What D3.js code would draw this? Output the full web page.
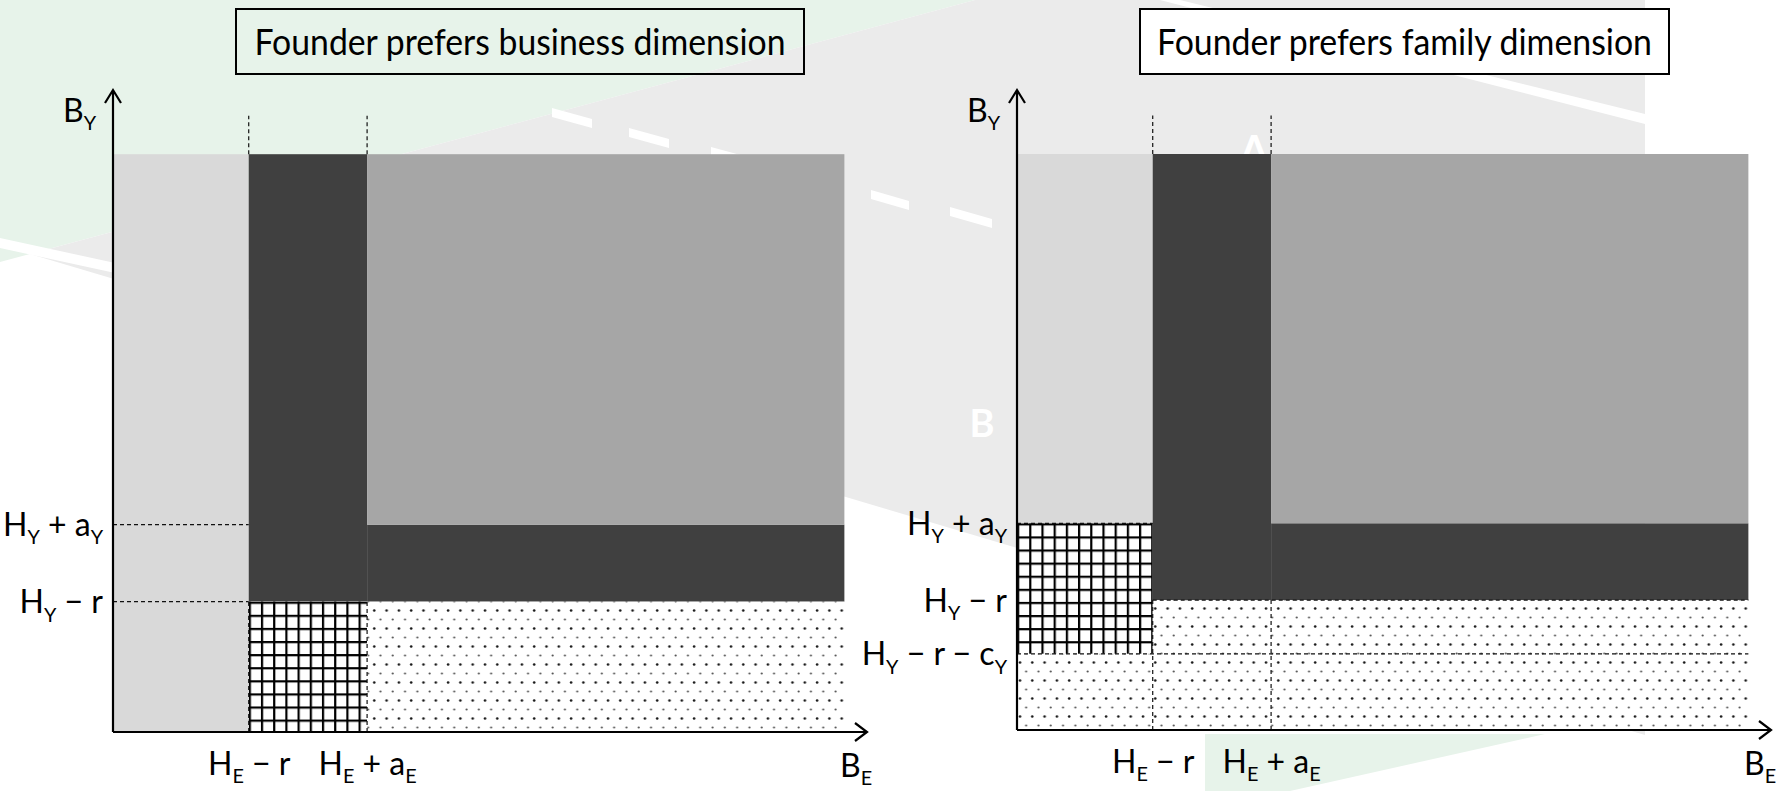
<!DOCTYPE html>
<html>
<head>
<meta charset="utf-8">
<script src="https://cdn.jsdelivr.net/npm/d3@7"></script>
<style>
  html, body { margin: 0; padding: 0; background: #ffffff; }
  svg { display: block; }
  text { font-family: Lato, "Noto Sans", sans-serif; }
</style>
</head>
<body>
<svg id="chart" width="1778" height="791"></svg>
<script>
// ---------------- data (abstract units: axis origin = 0, arrow tip = 100) ----------------
const panelTitles = ["Founder prefers business dimension", "Founder prefers family dimension"];
const xAxisName = "B_E";
const yAxisName = "B_Y";

const HE_minus_r = 18.0;      // H_E − r
const HE_plus_aE = 33.7;      // H_E + a_E
const HY_plus_aY = 32.3;      // H_Y + a_Y
const HY_minus_r = 20.3;      // H_Y − r
const HY_minus_r_cY = 11.9;   // H_Y − r − c_Y
const regionTop = 90;         // upper bound of shaded area
const regionRight = 97;       // right bound of shaded area
const guideTop = 96;          // end of the dashed guides above the area

const xTickValues = [HE_minus_r, HE_plus_aE];
const xTickLabels = ["H_E − r", "H_E + a_E"];

const yTickValuesBusiness = [HY_plus_aY, HY_minus_r];
const yTickLabelsBusiness = ["H_Y + a_Y", "H_Y − r"];
const yTickValuesFamily = [HY_plus_aY, HY_minus_r, HY_minus_r_cY];
const yTickLabelsFamily = ["H_Y + a_Y", "H_Y − r", "H_Y − r − c_Y"];

// regions: kind = light | dark | mid | hatch | dots
const businessRegions = [
  { kind: "light", x: [0, HE_minus_r],            y: [0, regionTop] },
  { kind: "dark",  x: [HE_minus_r, HE_plus_aE],   y: [HY_minus_r, regionTop] },
  { kind: "dark",  x: [HE_plus_aE, regionRight],  y: [HY_minus_r, HY_plus_aY] },
  { kind: "mid",   x: [HE_plus_aE, regionRight],  y: [HY_plus_aY, regionTop] },
  { kind: "hatch", x: [HE_minus_r, HE_plus_aE],   y: [0, HY_minus_r] },
  { kind: "dots",  x: [HE_plus_aE, regionRight],  y: [0, HY_minus_r] }
];
const familyRegions = [
  { kind: "light", x: [0, HE_minus_r],            y: [HY_plus_aY, regionTop] },
  { kind: "hatch", x: [0, HE_minus_r],            y: [HY_minus_r_cY, HY_plus_aY] },
  { kind: "dots",  x: [0, HE_minus_r],            y: [0, HY_minus_r_cY] },
  { kind: "dark",  x: [HE_minus_r, HE_plus_aE],   y: [HY_minus_r, regionTop] },
  { kind: "dark",  x: [HE_plus_aE, regionRight],  y: [HY_minus_r, HY_plus_aY] },
  { kind: "mid",   x: [HE_plus_aE, regionRight],  y: [HY_plus_aY, regionTop] },
  { kind: "dots",  x: [HE_minus_r, regionRight],  y: [0, HY_minus_r] }
];

// dashed guide lines: [x0, y0, x1, y1]
const businessGuides = [
  [0, HY_plus_aY, HE_minus_r, HY_plus_aY],
  [0, HY_minus_r, HE_minus_r, HY_minus_r],
  [HE_minus_r, 0, HE_minus_r, HY_minus_r],
  [HE_plus_aE, 0, HE_plus_aE, HY_minus_r],
  [HE_minus_r, regionTop, HE_minus_r, guideTop],
  [HE_plus_aE, regionTop, HE_plus_aE, guideTop]
];
const familyGuides = [
  [0, HY_plus_aY, HE_minus_r, HY_plus_aY],
  [HE_minus_r, HY_minus_r, regionRight, HY_minus_r],
  [0, HY_minus_r_cY, regionRight, HY_minus_r_cY],
  [HE_minus_r, 0, HE_minus_r, HY_minus_r],
  [HE_plus_aE, 0, HE_plus_aE, HY_minus_r],
  [HE_minus_r, regionTop, HE_minus_r, guideTop],
  [HE_plus_aE, regionTop, HE_plus_aE, guideTop]
];

// ---------------- drawing ----------------
const svg = d3.select("#chart");
const defs = svg.append("defs");

const colors = { light: "#d9d9d9", dark: "#404040", mid: "#a6a6a6" };

// background decoration (slide backdrop)
const bg = svg.append("g");
bg.append("rect").attr("width", 1778).attr("height", 791).attr("fill", "#ffffff");
bg.append("polygon").attr("points", "0,0 975,0 0,262").attr("fill", "#e7f3ea");
bg.append("polygon").attr("points", "30,254 975,0 1645,0 1645,735").attr("fill", "#ebebeb");
bg.append("polygon").attr("points", "0,238 175,276 175,286 0,248").attr("fill", "#ffffff");
bg.append("polygon").attr("points", "1160,0 1180,0 1645,114 1645,124").attr("fill", "#ffffff");
[[552,108,592,119],[629,128,669,139],[711,147,748,157],[871,190,909,201],[950,207,992,219]].forEach(d => {
  bg.append("polygon")
    .attr("points", `${d[0]},${d[1]} ${d[2]},${d[3]} ${d[2]},${d[3]+9} ${d[0]},${d[1]+9}`)
    .attr("fill", "#ffffff");
});
bg.append("polygon").attr("points", "1205,734 1545,734 1290,791 1205,791").attr("fill", "#e7f3ea");
bg.append("text").attr("x", 982).attr("y", 437).attr("text-anchor", "middle")
  .attr("font-size", 38).attr("font-weight", "bold").attr("fill", "#ffffff").text("B");
bg.append("text").attr("x", 1254).attr("y", 166).attr("text-anchor", "middle")
  .attr("font-size", 42).attr("font-weight", "bold").attr("fill", "#ffffff").text("A");

function addLabel(sel, str, size) {
  // "_X" marks a one-character subscript
  const parts = [];
  let i = 0, buf = "";
  while (i < str.length) {
    if (str[i] === "_" && i + 1 < str.length) {
      if (buf) parts.push({ t: buf, sub: false });
      parts.push({ t: str[i + 1], sub: true });
      buf = ""; i += 2;
    } else { buf += str[i]; i++; }
  }
  if (buf) parts.push({ t: buf, sub: false });
  let shifted = false;
  parts.forEach(p => {
    const ts = sel.append("tspan").text(p.t);
    if (p.sub) {
      ts.attr("font-size", size * 0.62);
      if (!shifted) { ts.attr("dy", size * 0.26); shifted = true; }
    } else {
      ts.attr("font-size", size);
      if (shifted) { ts.attr("dy", -size * 0.26); shifted = false; }
    }
  });
}

const panels = [
  { title: panelTitles[0], ox: 113, oy: 732, h: 642, regions: businessRegions, guides: businessGuides,
    yVals: yTickValuesBusiness, yLabels: yTickLabelsBusiness, box: [236, 9, 804, 74], boxFill: "none" },
  { title: panelTitles[1], ox: 1017, oy: 730, h: 640, regions: familyRegions, guides: familyGuides,
    yVals: yTickValuesFamily, yLabels: yTickLabelsFamily, box: [1140, 9, 1669, 74], boxFill: "#ffffff" }
];

const labelSize = 32;

panels.forEach((p, pi) => {
  const x = d3.scaleLinear().domain([0, 100]).range([p.ox, p.ox + 754]);
  const y = d3.scaleLinear().domain([0, 100]).range([p.oy, p.oy - p.h]);
  const g = svg.append("g");

  // patterns anchored to the panel origin
  const hatchRegion = p.regions.find(r => r.kind === "hatch");
  const hatch = defs.append("pattern").attr("id", "hatch" + pi)
    .attr("patternUnits", "userSpaceOnUse").attr("width", 12.2).attr("height", 13.1)
    .attr("x", x(hatchRegion.x[0])).attr("y", y(hatchRegion.y[1]));
  hatch.append("rect").attr("width", 12.2).attr("height", 13.1).attr("fill", "#ffffff");
  hatch.append("rect").attr("x", 0).attr("y", 0).attr("width", 2.2).attr("height", 13.1).attr("fill", "#000");
  hatch.append("rect").attr("x", 0).attr("y", 0).attr("width", 12.2).attr("height", 2.2).attr("fill", "#000");

  const dots = defs.append("pattern").attr("id", "dots" + pi)
    .attr("patternUnits", "userSpaceOnUse").attr("width", 12.3).attr("height", 18)
    .attr("x", p.ox).attr("y", p.oy);
  dots.append("rect").attr("width", 12.3).attr("height", 18).attr("fill", "#ffffff");
  dots.append("circle").attr("cx", 3).attr("cy", 4.5).attr("r", 1.3).attr("fill", "#1a1a1a");
  dots.append("circle").attr("cx", 9.15).attr("cy", 13.5).attr("r", 1.1).attr("fill", "#555");

  // regions
  g.selectAll("rect.region").data(p.regions).join("rect")
    .attr("class", "region")
    .attr("x", d => x(d.x[0]))
    .attr("y", d => y(d.y[1]))
    .attr("width", d => x(d.x[1]) - x(d.x[0]))
    .attr("height", d => y(d.y[0]) - y(d.y[1]))
    .attr("fill", d => d.kind === "hatch" ? `url(#hatch${pi})` : d.kind === "dots" ? `url(#dots${pi})` : colors[d.kind]);

  // dashed guides
  g.selectAll("line.guide").data(p.guides).join("line")
    .attr("class", "guide")
    .attr("x1", d => x(d[0])).attr("y1", d => y(d[1]))
    .attr("x2", d => x(d[2])).attr("y2", d => y(d[3]))
    .attr("stroke", "#111").attr("stroke-width", 1.2).attr("stroke-dasharray", "4,3");

  // axes (d3 axes for tick placement)
  const xAxis = d3.axisBottom(x).tickValues(xTickValues).tickSize(0).tickFormat("");
  const xg = g.append("g").attr("transform", `translate(0,${p.oy})`).call(xAxis);
  xg.select(".domain").remove();
  xg.selectAll(".tick").each(function(d, i) {
    const t = d3.select(this).append("text")
      .attr("y", 43).attr("text-anchor", "middle").attr("fill", "#000");
    addLabel(t, xTickLabels[i], labelSize);
  });

  const yAxis = d3.axisLeft(y).tickValues(p.yVals).tickSize(0).tickFormat("");
  const yg = g.append("g").attr("transform", `translate(${p.ox},0)`).call(yAxis);
  yg.select(".domain").remove();
  yg.selectAll(".tick").each(function(d, i) {
    const t = d3.select(this).append("text")
      .attr("x", -10).attr("y", 11).attr("text-anchor", "end").attr("fill", "#000");
    addLabel(t, p.yLabels[i], labelSize);
  });

  // axis lines with open arrow heads
  const tipX = x(100), tipY = y(100);
  const axisPath = d3.path();
  axisPath.moveTo(p.ox, p.oy); axisPath.lineTo(tipX, p.oy);
  axisPath.moveTo(tipX - 12, p.oy - 9); axisPath.lineTo(tipX, p.oy); axisPath.lineTo(tipX - 12, p.oy + 9);
  axisPath.moveTo(p.ox, p.oy); axisPath.lineTo(p.ox, tipY);
  axisPath.moveTo(p.ox - 8, tipY + 13); axisPath.lineTo(p.ox, tipY); axisPath.lineTo(p.ox + 8, tipY + 13);
  g.append("path").attr("d", axisPath.toString()).attr("fill", "none")
    .attr("stroke", "#000").attr("stroke-width", 2.2);

  // axis names
  const yName = g.append("text").attr("x", p.ox - 50).attr("y", tipY + 32).attr("fill", "#000");
  addLabel(yName, yAxisName, labelSize);
  const xName = g.append("text").attr("x", tipX - 27).attr("y", p.oy + 45).attr("fill", "#000");
  addLabel(xName, xAxisName, labelSize);

  // title box
  const b = p.box;
  svg.append("rect").attr("x", b[0]).attr("y", b[1]).attr("width", b[2] - b[0]).attr("height", b[3] - b[1])
    .attr("fill", p.boxFill).attr("stroke", "#000").attr("stroke-width", 2);
  svg.append("text").attr("x", (b[0] + b[2]) / 2).attr("y", 55).attr("text-anchor", "middle")
    .attr("font-size", 36).attr("fill", "#000")
    .attr("textLength", pi === 0 ? 531 : 495).attr("lengthAdjust", "spacingAndGlyphs")
    .text(p.title);
});
</script>
</body>
</html>
